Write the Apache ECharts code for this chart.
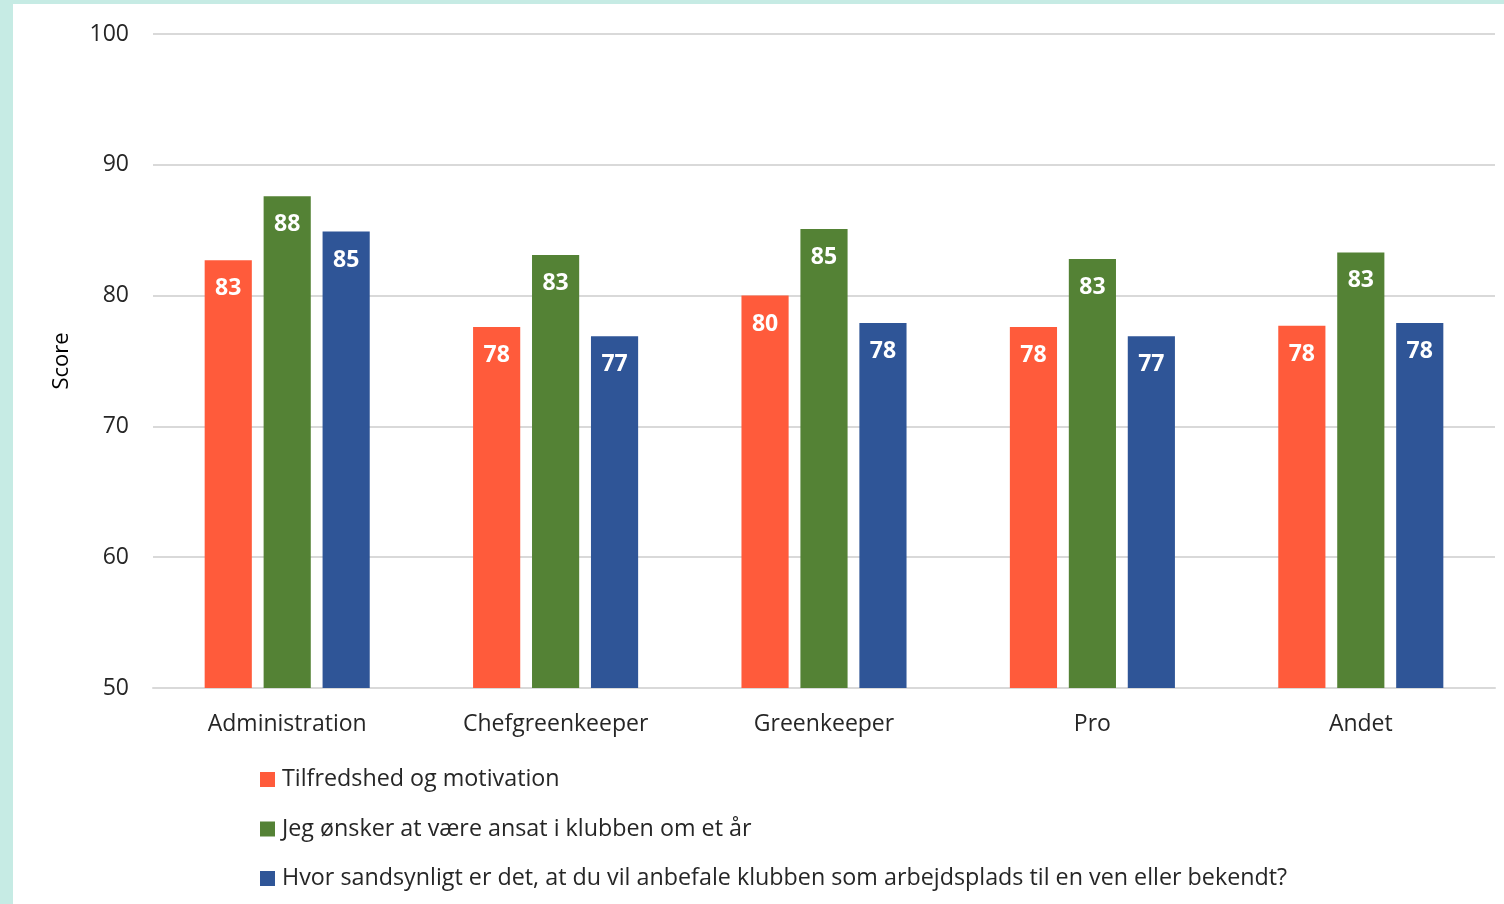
<!DOCTYPE html>
<html>
<head>
<meta charset="utf-8">
<script src="https://cdn.jsdelivr.net/npm/echarts@6/dist/echarts.min.js"></script>
<style>
  html, body { margin: 0; padding: 0; background: #c6ebe4; }
  #main { position: absolute; left: 13px; top: 4px; width: 1491px; height: 900px; background: #fff; }
</style>
</head>
<body>
<div id="main"></div>
<script>
const categories = ["Administration", "Chefgreenkeeper", "Greenkeeper", "Pro", "Andet"]
const seriesNames = [
  "Tilfredshed og motivation",
  "Jeg ønsker at være ansat i klubben om et år",
  "Hvor sandsynligt er det, at du vil anbefale klubben som arbejdsplads til en ven eller bekendt?"
]
const tilfredshed = [82.7, 77.6, 80.0, 77.6, 77.7]
const ansat = [87.6, 83.1, 85.1, 82.8, 83.3]
const anbefale = [84.9, 76.9, 77.9, 76.9, 77.9]
const colors = ["#ff5b3b", "#548235", "#2f5597"]

const font = "'Open Sans', 'Liberation Sans', sans-serif"
let myChart = echarts.init(document.getElementById("main"))

function bar (name, data, color) {
  return {
    name: name,
    type: "bar",
    data: data,
    barGap: "25%",
    barCategoryGap: "38.5%",
    itemStyle: { color: color },
    label: {
      show: true,
      position: "insideTop",
      distance: 17,
      color: "#fff",
      fontWeight: "bold",
      fontSize: 23,
      fontFamily: font,
      formatter: p => Math.round(p.value)
    }
  }
}

let option = {
  animation: false,
  color: colors,
  grid: { left: 140, right: 9, top: 30, bottom: 216 },
  legend: {
    orient: "vertical",
    left: 242,
    top: 759,
    icon: "rect",
    itemWidth: 15,
    itemHeight: 15,
    itemGap: 26.5,
    textStyle: { fontSize: 23.3, lineHeight: 22, color: "#262626", fontFamily: font, padding: [0, 0, 0, 2] }
  },
  xAxis: {
    type: "category",
    data: categories,
    axisTick: { show: false },
    axisLine: { lineStyle: { color: "#d9d9d9", width: 2 } },
    axisLabel: { fontSize: 23, color: "#262626", margin: 25, fontFamily: font }
  },
  yAxis: {
    type: "value",
    min: 50,
    max: 100,
    interval: 10,
    name: "Score",
    nameLocation: "middle",
    nameGap: 80,
    nameTextStyle: { fontSize: 22, color: "#000", fontFamily: font },
    axisLabel: { fontSize: 23, color: "#262626", margin: 24, fontFamily: font },
    splitLine: { lineStyle: { color: "#d9d9d9", width: 2 } }
  },
  series: [
    bar(seriesNames[0], tilfredshed, colors[0]),
    bar(seriesNames[1], ansat, colors[1]),
    bar(seriesNames[2], anbefale, colors[2])
  ]
}
myChart.setOption(option)
</script>
</body>
</html>
